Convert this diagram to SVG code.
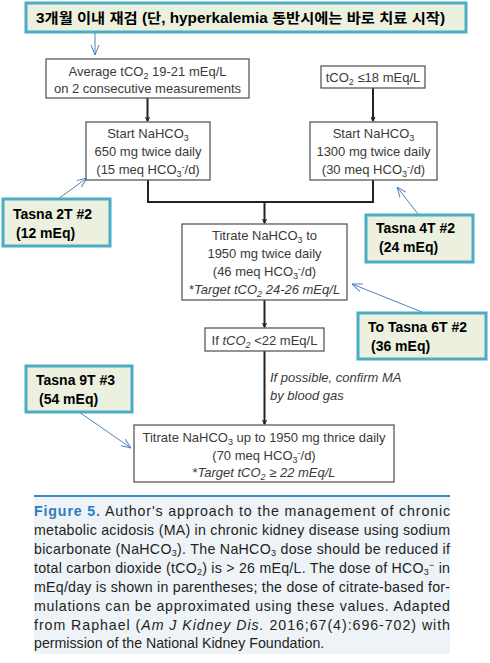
<svg xmlns="http://www.w3.org/2000/svg" width="490" height="663" viewBox="0 0 490 663">
<style>
.box{fill:#fff;stroke:#5a5a5a;stroke-width:1.3}
.t{font-family:"Liberation Sans",Arial,sans-serif;font-size:13px;fill:#3a3a3a;text-anchor:middle}
.it{font-style:italic}
.note rect{fill:#ebf1de;stroke:#4bacc6;stroke-width:3}
.note text{font-family:"Liberation Sans",Arial,sans-serif;font-size:14px;font-weight:bold;fill:#000}
.con{fill:none;stroke:#222;stroke-width:2}
.blue{fill:none;stroke:#4f81bd;stroke-width:1}
.cap{font-family:"Liberation Sans",Arial,sans-serif;font-size:14.2px;fill:#231f20}
.sub{font-size:9px}
</style>
<defs>
<marker id="ah" viewBox="0 0 10 10" refX="9" refY="5" markerWidth="5" markerHeight="5" orient="auto" markerUnits="userSpaceOnUse">
<path d="M1,1 L9,5 L1,9" fill="none" stroke="#222" stroke-width="2.2"/>
</marker>
<marker id="bh" viewBox="0 0 10 10" refX="10" refY="5" markerWidth="10" markerHeight="10" orient="auto" markerUnits="userSpaceOnUse">
<path d="M0,1 L10,5 L0,9" fill="none" stroke="#4f81bd" stroke-width="1"/>
</marker>
</defs>

<g id="banner" class="note">
<rect x="26" y="3" width="440" height="29"/>
<text x="36" y="23" font-size="15.5px" textLength="409" lengthAdjust="spacingAndGlyphs" style="font-family:'Liberation Sans','Noto Sans CJK KR',sans-serif">3개월 이내 재검 (단, hyperkalemia 동반시에는 바로 치료 시작)</text>
</g>

<g id="connectors">
<path class="con" d="M147.5,98 V121" marker-end="url(#ah)"/>
<path class="con" d="M373,88 V121" marker-end="url(#ah)"/>
<path class="con" d="M148,180 V202 H373 V180"/>
<path class="con" d="M264.5,202 V223" marker-end="url(#ah)"/>
<path class="con" d="M264.5,300 V327" marker-end="url(#ah)"/>
<path class="con" d="M264.5,351 V424" marker-end="url(#ah)"/>
<path class="blue" d="M95,33 V55" marker-end="url(#bh)"/>
<path class="blue" d="M58,199 L87,178" marker-end="url(#bh)"/>
<path class="blue" d="M418,214 L397,187" marker-end="url(#bh)"/>
<path class="blue" d="M422,312 L352,284" marker-end="url(#bh)"/>
<path class="blue" d="M79,412 L131,448" marker-end="url(#bh)"/>
</g>

<g id="avg">
<rect class="box" x="46" y="59" width="203" height="39"/>
<text class="t" x="147.5" y="76">Average tCO<tspan class="sub" dy="3">2</tspan><tspan dy="-3"> 19-21 mEq/L</tspan></text>
<text class="t" x="147.5" y="93">on 2 consecutive measurements</text>
</g>

<g id="low">
<rect class="box" x="321" y="66" width="104" height="22"/>
<text class="t" x="373" y="82">tCO<tspan class="sub" dy="3">2</tspan><tspan dy="-3"> ≤18 mEq/L</tspan></text>
</g>

<g id="start650">
<rect class="box" x="86" y="122" width="124" height="58"/>
<text class="t" x="148" y="138">Start NaHCO<tspan class="sub" dy="3">3</tspan></text>
<text class="t" x="148" y="156">650 mg twice daily</text>
<text class="t" x="148" y="174">(15 meq HCO<tspan class="sub" dy="3">3</tspan><tspan class="sub" dy="-7">-</tspan><tspan dy="4">/d)</tspan></text>
</g>

<g id="start1300">
<rect class="box" x="310" y="122" width="127" height="58"/>
<text class="t" x="373.5" y="138">Start NaHCO<tspan class="sub" dy="3">3</tspan></text>
<text class="t" x="373.5" y="156">1300 mg twice daily</text>
<text class="t" x="373.5" y="174">(30 meq HCO<tspan class="sub" dy="3">3</tspan><tspan class="sub" dy="-7">-</tspan><tspan dy="4">/d)</tspan></text>
</g>

<g id="titrate1950">
<rect class="box" x="182" y="224" width="165" height="76"/>
<text class="t" x="264.5" y="240">Titrate NaHCO<tspan class="sub" dy="3">3</tspan><tspan dy="-3"> to</tspan></text>
<text class="t" x="264.5" y="258">1950 mg twice daily</text>
<text class="t" x="264.5" y="276">(46 meq HCO<tspan class="sub" dy="3">3</tspan><tspan class="sub" dy="-7">-</tspan><tspan dy="4">/d)</tspan></text>
<text class="t" x="264.5" y="294">*<tspan class="it">Target tCO</tspan><tspan class="sub it" dy="3">2</tspan><tspan class="it" dy="-3"> 24-26 mEq/L</tspan></text>
</g>

<g id="if22">
<rect class="box" x="205" y="328" width="119" height="23"/>
<text class="t" x="264.5" y="345">If <tspan class="it">tCO</tspan><tspan class="sub it" dy="3">2</tspan><tspan dy="-3"> &lt;22 mEq/L</tspan></text>
</g>

<g id="confirm">
<text class="t it" x="270" y="382" style="text-anchor:start">If possible, confirm MA</text>
<text class="t it" x="270" y="400" style="text-anchor:start">by blood gas</text>
</g>

<g id="thrice">
<rect class="box" x="134" y="425" width="260" height="57"/>
<text class="t" x="264" y="442">Titrate NaHCO<tspan class="sub" dy="3">3</tspan><tspan dy="-3"> up to 1950 mg thrice daily</tspan></text>
<text class="t" x="264" y="460">(70 meq HCO<tspan class="sub" dy="3">3</tspan><tspan class="sub" dy="-7">-</tspan><tspan dy="4">/d)</tspan></text>
<text class="t" x="264" y="477">*<tspan class="it">Target tCO</tspan><tspan class="sub it" dy="3">2</tspan><tspan class="it" dy="-3"> ≥ 22 mEq/L</tspan></text>
</g>

<g id="tasna2" class="note">
<rect x="3" y="199" width="107" height="47"/>
<text x="13" y="219">Tasna 2T #2</text>
<text x="16" y="238">(12 mEq)</text>
</g>

<g id="tasna4" class="note">
<rect x="366" y="215" width="107" height="47"/>
<text x="376" y="233">Tasna 4T #2</text>
<text x="379" y="252">(24 mEq)</text>
</g>

<g id="tasna6" class="note">
<rect x="358" y="313" width="128" height="46"/>
<text x="368" y="332">To Tasna 6T #2</text>
<text x="371" y="351">(36 mEq)</text>
</g>

<g id="tasna9" class="note">
<rect x="26" y="366" width="106" height="46"/>
<text x="36" y="385">Tasna 9T #3</text>
<text x="39" y="404">(54 mEq)</text>
</g>

<g id="caption">
<rect x="34" y="497" width="416" height="157" fill="#eef3f8"/>
<line x1="34" y1="496" x2="450" y2="496" stroke="#3d8bc6" stroke-width="2"/>
<text class="cap" x="34" y="516" textLength="416" lengthAdjust="spacing"><tspan font-weight="bold" fill="#2f7dbf">Figure 5.</tspan> Author's approach to the management of chronic</text>
<text class="cap" x="34" y="535" textLength="416" lengthAdjust="spacing">metabolic acidosis (MA) in chronic kidney disease using sodium</text>
<text class="cap" x="34" y="554" textLength="416" lengthAdjust="spacing">bicarbonate (NaHCO<tspan class="sub" dy="2">3</tspan><tspan dy="-2">). The NaHCO</tspan><tspan class="sub" dy="2">3</tspan><tspan dy="-2"> dose should be reduced if</tspan></text>
<text class="cap" x="34" y="573" textLength="416" lengthAdjust="spacing">total carbon dioxide (tCO<tspan class="sub" dy="2">2</tspan><tspan dy="-2">) is &gt; 26 mEq/L. The dose of HCO</tspan><tspan class="sub" dy="2">3</tspan><tspan class="sub" dy="-7">−</tspan><tspan dy="5"> in</tspan></text>
<text class="cap" x="34" y="592" textLength="416" lengthAdjust="spacing">mEq/day is shown in parentheses; the dose of citrate-based for-</text>
<text class="cap" x="34" y="611" textLength="416" lengthAdjust="spacing">mulations can be approximated using these values. Adapted</text>
<text class="cap" x="34" y="630" textLength="416" lengthAdjust="spacing">from Raphael (<tspan font-style="italic">Am J Kidney Dis.</tspan> 2016;67(4):696-702) with</text>
<text class="cap" x="34" y="648">permission of the National Kidney Foundation.</text>
</g>
</svg>
